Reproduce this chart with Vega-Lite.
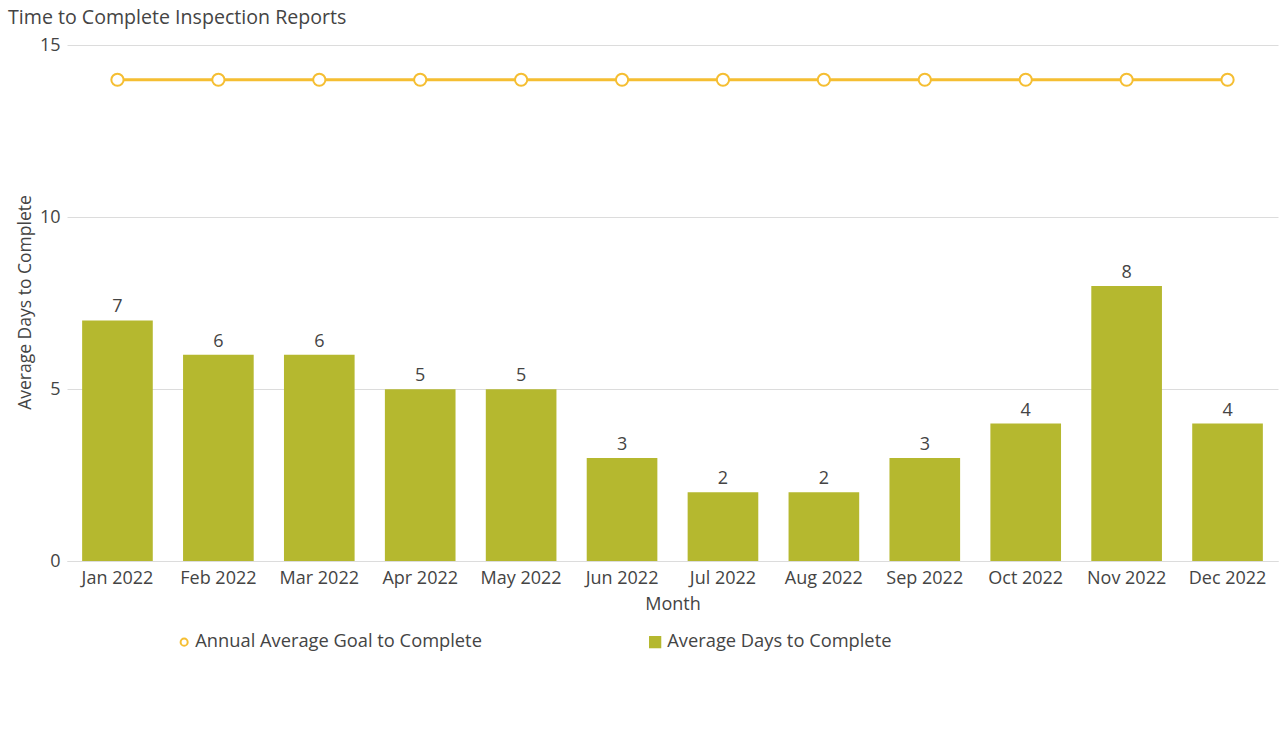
{
  "$schema": "https://vega.github.io/schema/vega-lite/v6.json",
  "autosize": {"type": "none"},
  "width": 1211,
  "height": 550,
  "padding": {"left": 67, "top": 11, "right": 7, "bottom": 178},
  "background": "white",
  "config": {
    "font": "Open Sans",
    "view": {"stroke": null},
    "axis": {"labelFont": "Open Sans", "titleFont": "Open Sans", "labelFontSize": 18, "titleFontSize": 18, "labelColor": "#444", "titleColor": "#444", "titleFontWeight": "normal", "gridColor": "#dcdcdc", "domainColor": "#dcdcdc", "ticks": false},
    "legend": {"labelFont": "Open Sans", "labelFontSize": 18.3, "labelColor": "#444", "labelLimit": 600}
  },
  "title": {"text": "Time to Complete Inspection Reports", "anchor": "start", "frame": "group", "dx": -59, "dy": 28, "fontSize": 19.6, "fontWeight": "normal", "color": "#444", "font": "Open Sans", "offset": 10},
  "data": {
    "values": [
      {"month": "Jan 2022", "days": 7, "goal": 14},
      {"month": "Feb 2022", "days": 6, "goal": 14},
      {"month": "Mar 2022", "days": 6, "goal": 14},
      {"month": "Apr 2022", "days": 5, "goal": 14},
      {"month": "May 2022", "days": 5, "goal": 14},
      {"month": "Jun 2022", "days": 3, "goal": 14},
      {"month": "Jul 2022", "days": 2, "goal": 14},
      {"month": "Aug 2022", "days": 2, "goal": 14},
      {"month": "Sep 2022", "days": 3, "goal": 14},
      {"month": "Oct 2022", "days": 4, "goal": 14},
      {"month": "Nov 2022", "days": 8, "goal": 14},
      {"month": "Dec 2022", "days": 4, "goal": 14}
    ]
  },
  "encoding": {
    "x": {"field": "month", "type": "ordinal", "sort": null, "title": "Month",
      "scale": {"paddingInner": 0.3, "paddingOuter": 0.15},
      "axis": {"labelAngle": 0, "labelPadding": 8, "titlePadding": 8, "grid": false}}
  },
  "layer": [
    {
      "mark": {"type": "bar", "color": "#b5b82f"},
      "encoding": {
        "y": {"field": "days", "type": "quantitative", "title": "Average Days to Complete",
          "scale": {"domain": [0, 15]},
          "axis": {"values": [0, 5, 10, 15], "domain": false, "labelPadding": 7, "titleX": -42, "titleY": 291, "titleBaseline": "middle", "titleFontSize": 17.5}},
        "fill": {"datum": "Average Days to Complete", "type": "nominal",
          "scale": {"range": ["#b5b82f"]},
          "legend": {"title": null, "orient": "none", "legendX": 579, "legendY": 622, "symbolType": "square", "symbolSize": 150, "symbolOpacity": 1, "labelOffset": 3}}
      }
    },
    {
      "mark": {"type": "text", "dy": -13, "fontSize": 18, "color": "#444", "font": "Open Sans"},
      "encoding": {
        "y": {"field": "days", "type": "quantitative"},
        "text": {"field": "days", "type": "quantitative"}
      }
    },
    {
      "mark": {"type": "line", "strokeWidth": 3, "point": {"filled": true, "fill": "white", "size": 150, "strokeWidth": 2}},
      "encoding": {
        "y": {"field": "goal", "type": "quantitative"},
        "stroke": {"datum": "Annual Average Goal to Complete", "type": "nominal",
          "scale": {"range": ["#f5be32"]},
          "legend": {"title": null, "orient": "none", "legendX": 108, "legendY": 622, "symbolType": "circle", "symbolSize": 50, "symbolStrokeWidth": 2, "symbolFillColor": "white", "labelOffset": 2}}
      }
    }
  ],
  "resolve": {"scale": {"fill": "independent", "stroke": "independent"}}
}
